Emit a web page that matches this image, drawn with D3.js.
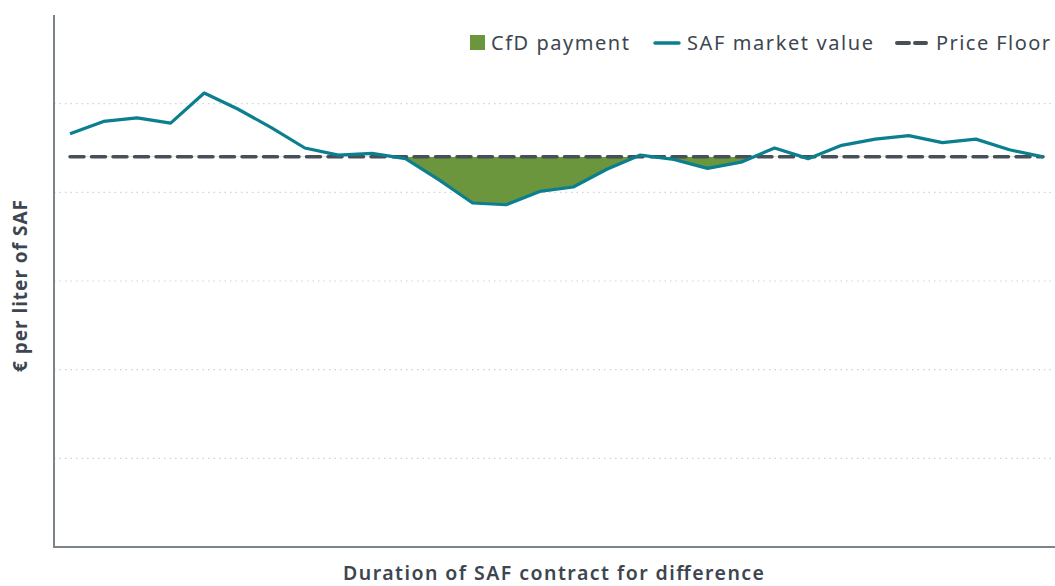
<!DOCTYPE html>
<html>
<head>
<meta charset="utf-8">
<script src="https://cdn.jsdelivr.net/npm/d3@7.9.0/dist/d3.min.js"></script>
<style>
  body { margin: 0; background: #fff; }
  text { font-family: "Noto Sans", sans-serif; fill: #3d4650; }
</style>
</head>
<body>
<svg id="chart" width="1055" height="586"></svg>
<script>
// market value per period (€ / liter)
const periods = d3.range(30);
const marketValue = [4.66, 4.80, 4.84, 4.78, 5.12, 4.94, 4.73, 4.50, 4.42, 4.44,
                     4.38, 4.14, 3.88, 3.86, 4.01, 4.06, 4.26, 4.42, 4.37, 4.27,
                     4.34, 4.50, 4.38, 4.53, 4.60, 4.64, 4.56, 4.60, 4.48, 4.40];
const priceFloor = 4.40;
const yTicks = [1, 2, 3, 4, 5];
const legendItems = ['CfD payment', 'SAF market value', 'Price Floor'];

const teal = '#0b7f8f', green = '#6b963d', floorColor = '#474f59', axisColor = '#7c8389';

const svg = d3.select('#chart');
const mLeft = 54, mRight = 1055, mTop = 15, mBottom = 547;

const x = d3.scaleLinear().domain([0, periods.length - 1]).range([70, 1043]);
const y = d3.scaleLinear().domain([0, 6]).range([mBottom, mTop]);

// dotted gridlines
svg.append('g')
  .selectAll('line')
  .data(yTicks)
  .join('line')
  .attr('x1', mLeft).attr('x2', mRight)
  .attr('y1', d => y(d)).attr('y2', d => y(d))
  .attr('stroke', '#cfd2d4')
  .attr('stroke-width', 1.2)
  .attr('stroke-dasharray', '1.5,4');

// CfD payment area: between floor and market value, only where market is below floor
svg.append('clipPath').attr('id', 'below')
  .append('rect')
  .attr('x', mLeft).attr('width', mRight - mLeft)
  .attr('y', y(priceFloor)).attr('height', mBottom - y(priceFloor));

let area = d3.area()
  .x((d, i) => x(i))
  .y0(y(priceFloor))
  .y1(d => y(d));

svg.append('path')
  .datum(marketValue)
  .attr('d', area)
  .attr('fill', green)
  .attr('clip-path', 'url(#below)');

// price floor
svg.append('line')
  .attr('x1', x(0)).attr('x2', x(periods.length - 1))
  .attr('y1', y(priceFloor)).attr('y2', y(priceFloor))
  .attr('stroke', floorColor)
  .attr('stroke-width', 3.5)
  .attr('stroke-dasharray', '14,7.5')
  .attr('stroke-linecap', 'round');

// market value line
let line = d3.line().x((d, i) => x(i)).y(d => y(d));
svg.append('path')
  .datum(marketValue)
  .attr('d', line)
  .attr('fill', 'none')
  .attr('stroke', teal)
  .attr('stroke-width', 3.2)
  .attr('stroke-linejoin', 'round');

// axes (no ticks, no labels)
svg.append('line')
  .attr('x1', mLeft).attr('x2', mLeft).attr('y1', mTop).attr('y2', mBottom)
  .attr('stroke', axisColor).attr('stroke-width', 2);
svg.append('line')
  .attr('x1', mLeft - 1).attr('x2', mRight).attr('y1', mBottom).attr('y2', mBottom)
  .attr('stroke', axisColor).attr('stroke-width', 2);

// axis titles
svg.append('text')
  .attr('x', 343).attr('y', 580)
  .attr('font-size', 19.5).attr('font-weight', 600)
  .attr('textLength', 421).attr('lengthAdjust', 'spacing')
  .text('Duration of SAF contract for difference');

svg.append('text')
  .attr('transform', 'translate(27,372) rotate(-90)')
  .attr('font-size', 19).attr('font-weight', 700)
  .attr('textLength', 172).attr('lengthAdjust', 'spacing')
  .text('€ per liter of SAF');

// legend
const lg = svg.append('g').attr('font-size', 20);
lg.append('rect').attr('x', 470).attr('y', 35).attr('width', 15).attr('height', 15).attr('fill', green);
lg.append('text').attr('x', 491).attr('y', 50)
  .attr('textLength', 138).attr('lengthAdjust', 'spacing').text(legendItems[0]);
lg.append('line').attr('x1', 655).attr('x2', 679).attr('y1', 43).attr('y2', 43)
  .attr('stroke', teal).attr('stroke-width', 3.5).attr('stroke-linecap', 'round');
lg.append('text').attr('x', 687).attr('y', 50)
  .attr('textLength', 186).attr('lengthAdjust', 'spacing').text(legendItems[1]);
lg.append('line').attr('x1', 897).attr('x2', 926).attr('y1', 43).attr('y2', 43)
  .attr('stroke', floorColor).attr('stroke-width', 4)
  .attr('stroke-dasharray', '12,6').attr('stroke-linecap', 'round');
lg.append('text').attr('x', 936).attr('y', 50)
  .attr('textLength', 114).attr('lengthAdjust', 'spacing').text(legendItems[2]);
</script>
</body>
</html>
